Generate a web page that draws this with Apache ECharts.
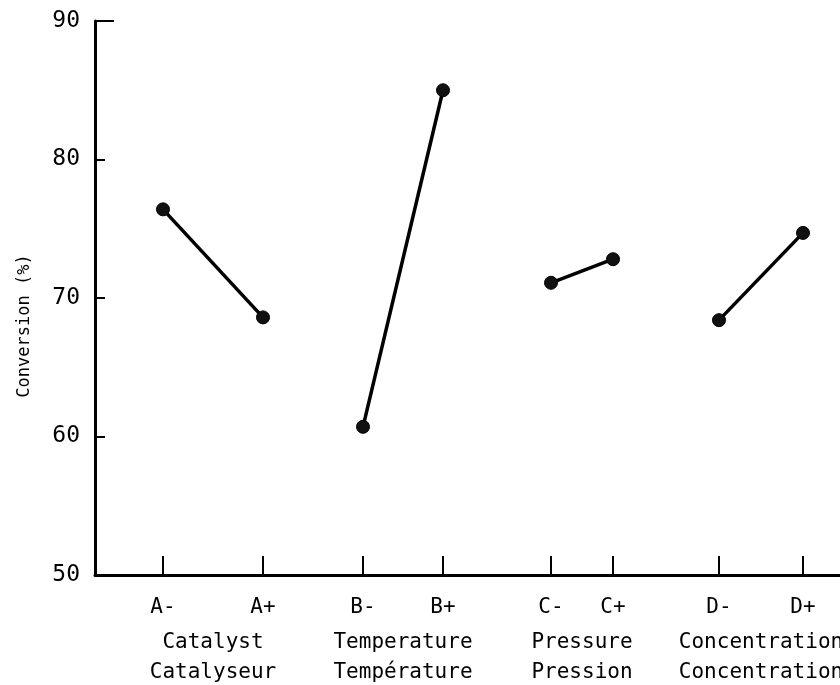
<!DOCTYPE html>
<html>
<head>
<meta charset="utf-8">
<script src="https://cdn.jsdelivr.net/npm/echarts@6/dist/echarts.min.js"></script>
<style>
html,body{margin:0;padding:0;background:#fff;}
#chart{width:840px;height:685px;}
</style>
</head>
<body>
<div id="chart"></div>
<script>
// ---- data ----
const levels = ['A-', 'A+', 'B-', 'B+', 'C-', 'C+', 'D-', 'D+'];
const levelPos = [1.7, 4.2, 6.7, 8.7, 11.4, 12.95, 15.6, 17.7];
const conversion = [76.4, 68.6, 60.7, 85.0, 71.1, 72.8, 68.4, 74.7];
const factorsEn = ['Catalyst', 'Temperature', 'Pressure', 'Concentration'];
const factorsFr = ['Catalyseur', 'Température', 'Pression', 'Concentration'];
const yTicks = [50, 60, 70, 80, 90];
const yTitle = 'Conversion (%)';

const FONT = 'DejaVu Sans Mono';
const X_MAX = 18.625;

// group centers computed from level positions
const groupCenters = factorsEn.map((_, g) => (levelPos[2 * g] + levelPos[2 * g + 1]) / 2);
const groupLabel = {};
groupCenters.forEach((c, g) => { groupLabel[c.toFixed(4)] = factorsEn[g] + '\n' + factorsFr[g]; });
const levelLabel = {};
levelPos.forEach((p, i) => { levelLabel[p.toFixed(4)] = levels[i]; });

const series = factorsEn.map((name, g) => ({
  type: 'line',
  name: name,
  data: [[levelPos[2 * g], conversion[2 * g]], [levelPos[2 * g + 1], conversion[2 * g + 1]]],
  symbol: 'circle',
  symbolSize: 13,
  lineStyle: { color: '#000', width: 3.5 },
  itemStyle: { color: '#111', borderColor: '#000', borderWidth: 1 },
  silent: true,
  animation: false
}));

const chart = echarts.init(document.getElementById('chart'), null, { renderer: 'canvas' });
chart.setOption({
  backgroundColor: '#fff',
  animation: false,
  grid: { left: 95, right: 0, top: 21, bottom: 110, containLabel: false, outerBoundsMode: 'none' },
  xAxis: [
    {
      type: 'value', min: 0, max: X_MAX, position: 'bottom',
      axisLine: { show: true, onZero: false, lineStyle: { color: '#000', width: 3 } },
      axisTick: { show: true, inside: true, length: 19, lineStyle: { color: '#000', width: 2 }, customValues: levelPos },
      axisLabel: {
        show: true, margin: 22, customValues: levelPos,
        formatter: v => levelLabel[v.toFixed(4)] || '',
        color: '#000', fontFamily: FONT, fontSize: 21
      },
      splitLine: { show: false }
    },
    {
      type: 'value', min: 0, max: X_MAX, position: 'bottom',
      axisLine: { show: false },
      axisTick: { show: false },
      axisLabel: {
        show: true, margin: 53, customValues: groupCenters, verticalAlign: 'top',
        formatter: v => groupLabel[v.toFixed(4)] || '',
        color: '#000', fontFamily: FONT, fontSize: 21, lineHeight: 30
      },
      splitLine: { show: false }
    }
  ],
  yAxis: [
    {
      type: 'value', min: yTicks[0], max: yTicks[yTicks.length - 1], interval: 10,
      name: yTitle, nameLocation: 'middle', nameRotate: 90, nameGap: 62,
      nameTextStyle: { color: '#000', fontFamily: FONT, fontSize: 17, padding: [0, 56, 0, 0] },
      axisLine: { show: true, onZero: false, lineStyle: { color: '#000', width: 3 } },
      axisTick: { show: true, inside: true, length: 10, lineStyle: { color: '#000', width: 2 } },
      axisLabel: { show: true, margin: 15, color: '#000', fontFamily: FONT, fontSize: 23 },
      splitLine: { show: false }
    },
    {
      type: 'value', min: yTicks[0], max: yTicks[yTicks.length - 1], position: 'left',
      axisLine: { show: false },
      axisTick: { show: true, inside: true, length: 19, lineStyle: { color: '#000', width: 2 }, customValues: [yTicks[yTicks.length - 1]] },
      axisLabel: { show: false },
      splitLine: { show: false }
    }
  ],
  series: series
});
</script>
</body>
</html>
